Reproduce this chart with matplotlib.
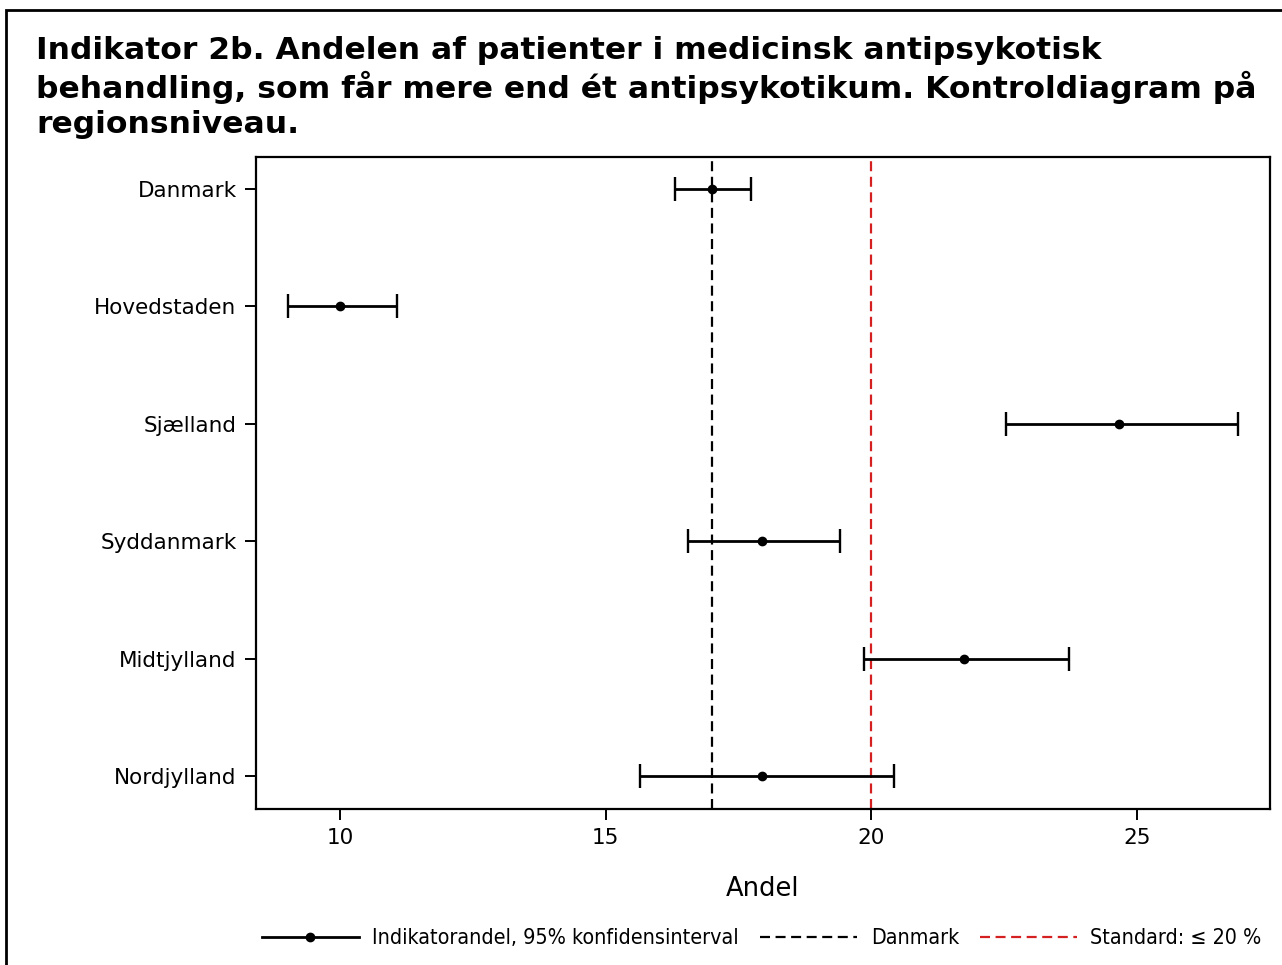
import numpy as np
import matplotlib
matplotlib.use("Agg")
from matplotlib import pyplot as plt
from matplotlib.lines import Line2D
from matplotlib.patches import Rectangle

# data
regions = ['Danmark', 'Hovedstaden', 'Sjælland', 'Syddanmark', 'Midtjylland', 'Nordjylland']
andel = [17.0, 10.0, 24.66, 17.94, 21.74, 17.94]
lower = [16.30, 9.02, 22.53, 16.55, 19.86, 15.64]
upper = [17.73, 11.07, 26.90, 19.41, 23.72, 20.42]
danmark_line = 17.0
standard = 20.0
xticks = [10, 15, 20, 25]

title = ("Indikator 2b. Andelen af patienter i medicinsk antipsykotisk\n"
         "behandling, som får mere end ét antipsykotikum. Kontroldiagram på\n"
         "regionsniveau.")

plt.rcParams['font.family'] = 'DejaVu Sans'

fig = plt.figure(figsize=(12.82, 9.65), dpi=100)
fig.patch.set_facecolor('white')

# outer frame
fig.add_artist(Rectangle((6 / 1282, -0.01), 1.02, 1 - 10 / 965 + 0.01,
                         transform=fig.transFigure, fill=False,
                         edgecolor='black', linewidth=2))

fig.text(36 / 1282, 1 - 36 / 965, title, ha='left', va='top',
         fontsize=22.6, fontweight='bold', linespacing=1.23)

ax = fig.add_axes([256 / 1282, 1 - 809 / 965, (1270 - 256) / 1282, (809 - 157) / 965])

y = np.arange(len(regions))
andel = np.array(andel)
err = np.array([andel - np.array(lower), np.array(upper) - andel])

ax.axvline(danmark_line, color='black', linestyle=(0, (4.5, 2.5)), linewidth=1.6, zorder=1)
ax.axvline(standard, color='#d42020', linestyle=(0, (4.5, 2.5)), linewidth=1.6, zorder=1)
ax.errorbar(andel, y, xerr=err, fmt='o', color='black', markersize=6,
            elinewidth=2.0, capsize=8.5, capthick=1.7, zorder=3)

ax.set_ylim(len(regions) - 1 + 0.28, -0.27)
ax.set_xlim(8.42, 27.5)
ax.set_yticks(y)
ax.set_yticklabels(regions, fontsize=15.5)
ax.set_xticks(xticks)
ax.set_xticklabels([str(t) for t in xticks], fontsize=15.5)
ax.tick_params(axis='both', direction='out', length=8, width=1.4, pad=6)
ax.set_xlabel('Andel', fontsize=18.5, labelpad=20)
for s in ax.spines.values():
    s.set_linewidth(1.6)

handles = [
    Line2D([0], [0], color='black', linewidth=2.0, marker='o', markersize=6),
    Line2D([0], [0], color='black', linewidth=1.6, linestyle=(0, (4.5, 2.5))),
    Line2D([0], [0], color='#d42020', linewidth=1.6, linestyle=(0, (4.5, 2.5))),
]
labels = ['Indikatorandel, 95% konfidensinterval', 'Danmark', 'Standard: ≤ 20 %']
fig.legend(handles, labels, loc='center', bbox_to_anchor=(762 / 1282, 1 - 938 / 965),
           ncol=3, frameon=False, handlelength=4.5, numpoints=1,
           columnspacing=1.0, handletextpad=0.65,
           prop={'family': 'DejaVu Sans', 'stretch': 'condensed', 'size': 15.4})

plt.savefig('out.png', dpi=100)
